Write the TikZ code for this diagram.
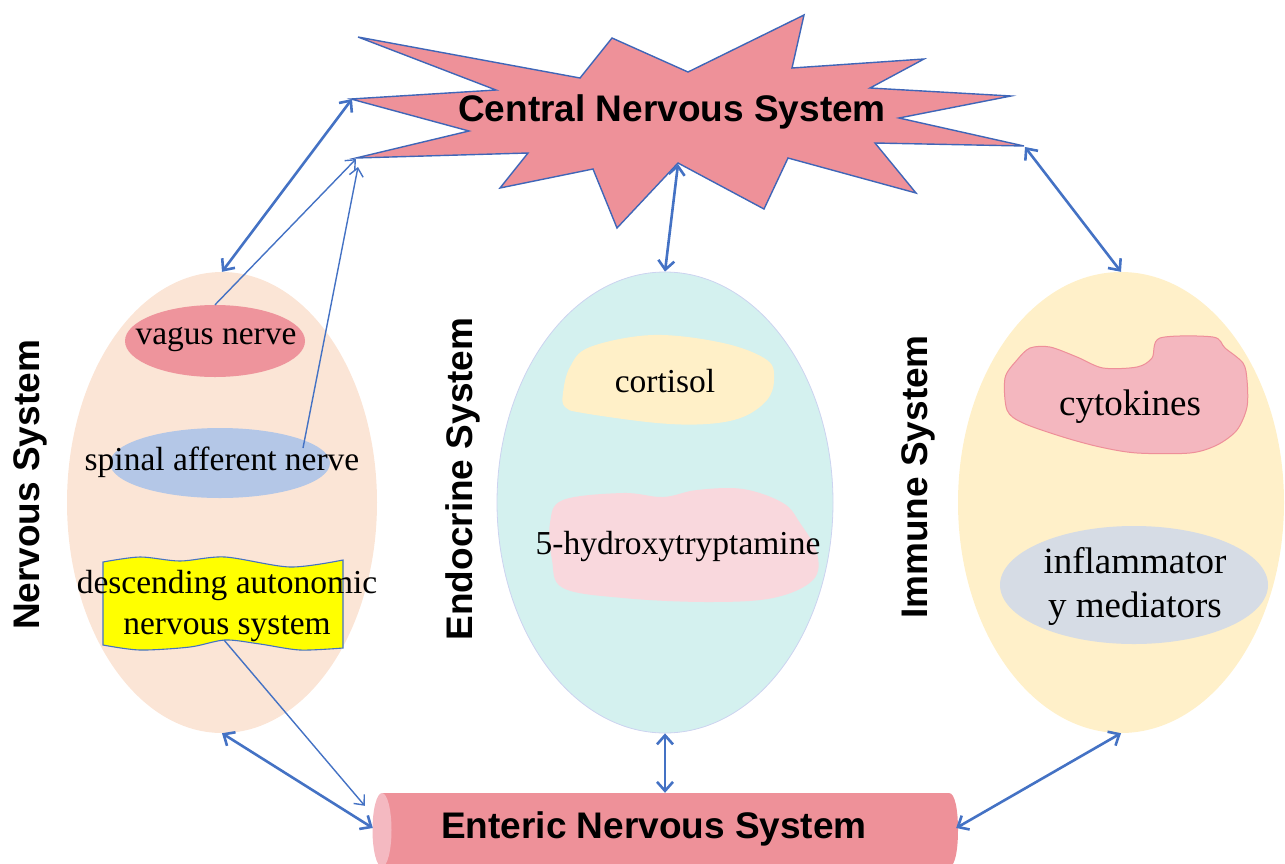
\documentclass[tikz,border=0pt]{standalone}
\usepackage{fontspec}
\setmainfont{Liberation Serif}
\setsansfont{Liberation Sans}
\usetikzlibrary{shapes.geometric,arrows.meta,calc}
\definecolor{arrowblue}{HTML}{4472C4}
\definecolor{starborder}{HTML}{3F66B8}
\definecolor{starfill}{HTML}{EE9199}
\definecolor{nsfill}{HTML}{FBE5D6}
\definecolor{esfill}{HTML}{D4F1EF}
\definecolor{esborder}{HTML}{CCD3F0}
\definecolor{isfill}{HTML}{FFF0C9}
\definecolor{vagusfill}{HTML}{EE949C}
\definecolor{spinalfill}{HTML}{B4C7E7}
\definecolor{cortfill}{HTML}{FFF0C8}
\definecolor{htfill}{HTML}{F9D8DD}
\definecolor{cytofill}{HTML}{F4B7BF}
\definecolor{cytoborder}{HTML}{EE8F99}
\definecolor{inflfill}{HTML}{D6DCE5}
\definecolor{ensbody}{HTML}{EE9199}
\definecolor{enscap}{HTML}{F4B9C1}
\definecolor{tapeyellow}{HTML}{FFFF00}
\begin{document}
\begin{tikzpicture}[x=1pt,y=-1pt,
  arr/.style={draw=arrowblue, line width=2.6pt,
    {Straight Barb[length=9pt,width=16pt]}-{Straight Barb[length=9pt,width=16pt]}},
  thinarr/.style={draw=arrowblue, line width=1.4pt,
    -{Straight Barb[length=8pt,width=14pt]}},
  sysel/.style={ellipse, inner sep=0pt},
  lab/.style={font=\sffamily\bfseries\fontsize{37}{42}\selectfont, inner sep=0pt},
  sertext/.style={font=\fontsize{33.5}{41}\selectfont, align=center, inner sep=0pt},
  bigsertext/.style={font=\fontsize{37}{44}\selectfont, align=center, inner sep=0pt}]
\useasboundingbox (0,0) rectangle (1285,863);
\clip (0,0) rectangle (1285,863);

% system ellipses
\node[sysel, fill=nsfill, minimum width=310pt, minimum height=461pt] (ns) at (222,502.5) {};
\node[sysel, fill=esfill, draw=esborder, line width=0.8pt, minimum width=336pt, minimum height=461pt] (es) at (665,502.5) {};
\node[sysel, fill=isfill, minimum width=326pt, minimum height=461pt] (is) at (1121,502.5) {};

% vertical labels
\node[lab, rotate=90] (nslab) at (30,485) {Nervous System};
\node[lab, rotate=90] (eslab) at (463,479) {Endocrine System};
\node[lab, rotate=90] (islab) at (918,477) {Immune System};

% nervous system contents
\node[sysel, fill=vagusfill, minimum width=180pt, minimum height=72pt] (vagus) at (215,341) {};
\node[sertext] (vagust) at (216,340) {vagus nerve};
\node[sysel, fill=spinalfill, minimum width=220pt, minimum height=70pt] (spinal) at (220,463) {};
\node[sertext] (spinalt) at (222,462) {spinal afferent nerve};
\fill[tapeyellow] plot[smooth] coordinates {(103,562) (140,557) (180,561) (225,557) (290,567) (343,560)}
  -- plot[smooth] coordinates {(343,648) (300,650) (260,644) (225,640) (190,647) (140,650) (103,645)} -- cycle;
\draw[arrowblue, line width=1.1pt] plot[smooth] coordinates {(103,562) (140,557) (180,561) (225,557) (290,567) (343,560)}
  -- plot[smooth] coordinates {(343,648) (300,650) (260,644) (225,640) (190,647) (140,650) (103,645)} -- cycle;
\node[sertext] (desc) at (227,606) {descending autonomic\\nervous system};
\coordinate (descb) at (224,640);

% endocrine contents
\fill[cortfill] plot[smooth cycle, tension=0.6] coordinates {(563,393) (570,367) (590,347) (653,335) (723,343) (767,360) (774,380) (767,400) (743,417) (707,424) (657,423) (583,413) (565,407)};
\node[sertext] (cort) at (665,381) {cortisol};
\fill[htfill] plot[smooth cycle, tension=0.6] coordinates {(563,500) (623,493) (663,497) (697,490) (743,489) (783,503) (800,523) (817,553) (813,580) (773,598) (707,602) (623,598) (563,588) (552,560) (550,523)};
\node[sertext] (ht) at (678,546) {5-hydroxytryptamine};

% immune contents
\draw[fill=cytofill, draw=cytoborder, line width=1pt] plot[smooth cycle, tension=0.5] coordinates {(1005,378) (1017,360) (1030,348) (1050,347) (1077,357) (1103,368) (1137,367) (1152,358) (1160,338) (1213,337) (1225,348) (1243,363) (1247,380) (1247,407) (1237,430) (1217,445) (1190,453) (1137,453) (1100,447) (1063,437) (1023,423) (1007,410)};
\node[bigsertext] (cyto) at (1130,407) {cytokines};
\node[sysel, fill=inflfill, minimum width=268pt, minimum height=118pt] (infl) at (1134,585) {};
\node[bigsertext] (inflt) at (1135,586) {inflammator\\y mediators};

% central nervous system star
\draw[fill=starfill, draw=starborder, line width=1.4pt, line join=miter]
  (358,37) -- (580,78) -- (612,38) -- (688,72) -- (804,15) -- (792,68) -- (924,59) -- (870,88)
  -- (1011,96) -- (899,118) -- (1024,146) -- (875,143) -- (916,193) -- (788,158) -- (764,209)
  -- (678,163) -- (617,228) -- (593,169) -- (500,188) -- (528,153) -- (356,158) -- (469,131)
  -- (351,99) -- (496,90) -- cycle;
\coordinate (tipA) at (352,99);
\coordinate (tipB) at (356,159);
\coordinate (tipB2) at (358,167);
\coordinate (tipR) at (1025,147);
\coordinate (tipC) at (678,164);
\node[lab] (cns) at (672,112) {Central Nervous System};

% enteric nervous system cylinder
\node[minimum width=584pt, minimum height=74pt, inner sep=0pt] (ens) at (665,830) {};
\fill[ensbody] (382,793) -- (949,793) .. controls (955,793) and (958,810) .. (958,830)
  .. controls (958,850) and (955,867) .. (949,867) -- (382,867) -- cycle;
\fill[enscap] (382,830) ellipse [x radius=9.5pt, y radius=37pt];
\node[lab] (enst) at (654,829) {Enteric Nervous System};

% connectors
\draw[arr] (tipA) -- (ns.north);
\draw[thinarr] (vagus.north) -- (tipB);
\draw[thinarr] ($(spinal.center)+(83,-15)$) -- (tipB2);
\draw[arr] (es.north) -- (tipC);
\draw[arr] (tipR) -- (is.north);
\draw[arr] (ns.south) -- ($(ens.west)+(0,-2)$);
\draw[thinarr] (descb) -- ($(ens.north west)+(-8,13)$);
\draw[arr] (es.south) -- (ens.north);
\draw[arr] (is.south) -- ($(ens.east)+(-1,-2)$);
\end{tikzpicture}
\end{document}
